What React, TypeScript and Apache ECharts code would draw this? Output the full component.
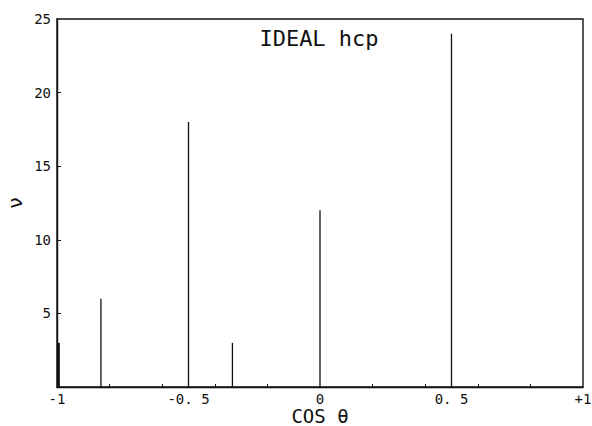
import React, { useEffect, useRef } from "react";
import * as echarts from "echarts";

const cosTheta = [-0.993, -0.833, -0.5, -0.333, 0, 0.5];
const counts = [3, 6, 18, 3, 12, 24];
const xLabelValues = [-1, -0.5, 0, 0.5, 1];
const xLabelTexts = ["-1", "-0. 5", "0", "0. 5", "+1"];
const xTickValues = [-0.8, -0.6, -0.4, -0.2, 0.2, 0.4, 0.6, 0.8];
const yLabelValues = [5, 10, 15, 20, 25];
const yTickValues = [5, 10, 15, 20];

const FONT = "DejaVu Sans Mono";

export default function App() {
  const ref = useRef<HTMLDivElement>(null);
  useEffect(() => {
    if (!ref.current) return;
    const chart = echarts.init(ref.current, null, { renderer: "svg" });
    const data = cosTheta.map((c, i) => [c, counts[i]]);
    chart.setOption({
      animation: false,
      backgroundColor: "#fff",
      title: {
        text: "IDEAL hcp",
        left: 314,
        top: 22,
        textAlign: "center",
        textStyle: { fontFamily: FONT, fontSize: 22, fontWeight: "normal", color: "#111" },
      },
      grid: {
        left: 57,
        right: 9,
        top: 19,
        bottom: 39,
        containLabel: false,
        outerBoundsMode: "none",
        show: true,
        borderColor: "#111",
        borderWidth: 1.4,
        backgroundColor: "transparent",
      },
      xAxis: {
        type: "value",
        min: -1,
        max: 1,
        splitLine: { show: false },
        axisLine: { show: true, onZero: false, lineStyle: { color: "#111", width: 1.4 } },
        axisTick: {
          show: true,
          inside: true,
          length: 3,
          customValues: xTickValues,
          lineStyle: { color: "#111", width: 1 },
        },
        axisLabel: {
          customValues: xLabelValues,
          margin: 5,
          hideOverlap: false,
          showMaxLabel: true,
          fontFamily: FONT,
          fontSize: 14,
          lineHeight: 13,
          color: "#111",
          formatter: (v: number) => {
            const i = xLabelValues.findIndex((x) => Math.abs(x - v) < 1e-6);
            return i >= 0 ? xLabelTexts[i] : "";
          },
        },
        name: "COS θ",
        nameLocation: "middle",
        nameGap: 29,
        nameMoveOverlap: false,
        nameTextStyle: {
          fontFamily: FONT,
          fontSize: 19,
          lineHeight: 18,
          color: "#111",
          verticalAlign: "middle",
        },
      },
      yAxis: {
        type: "value",
        min: 0,
        max: 25,
        splitLine: { show: false },
        axisLine: { show: true, onZero: false, lineStyle: { color: "#111", width: 1.4 } },
        axisTick: {
          show: true,
          inside: true,
          length: 4,
          customValues: yTickValues,
          lineStyle: { color: "#111", width: 1 },
        },
        axisLabel: {
          customValues: yLabelValues,
          margin: 6,
          fontFamily: FONT,
          fontSize: 14,
          color: "#111",
        },
        name: "ν",
        nameLocation: "middle",
        nameGap: 42,
        nameRotate: 90,
        nameMoveOverlap: false,
        nameTextStyle: { fontFamily: FONT, fontSize: 20, color: "#111", verticalAlign: "middle" },
      },
      series: [
        {
          type: "custom",
          data,
          renderItem: (params: any, api: any) => {
            const x = api.value(0);
            const y = api.value(1);
            const p0 = api.coord([x, 0]);
            const p1 = api.coord([x, y]);
            return {
              type: "line",
              shape: { x1: p0[0], y1: p0[1], x2: p1[0], y2: p1[1] },
              style: { stroke: "#111", lineWidth: params.dataIndex === 0 ? 2 : 1.3 },
            };
          },
        },
      ],
    });
    return () => chart.dispose();
  }, []);
  return (
    <div
      ref={ref}
      style={{ position: "fixed", left: 0, top: 0, width: 592, height: 426 }}
    />
  );
}
